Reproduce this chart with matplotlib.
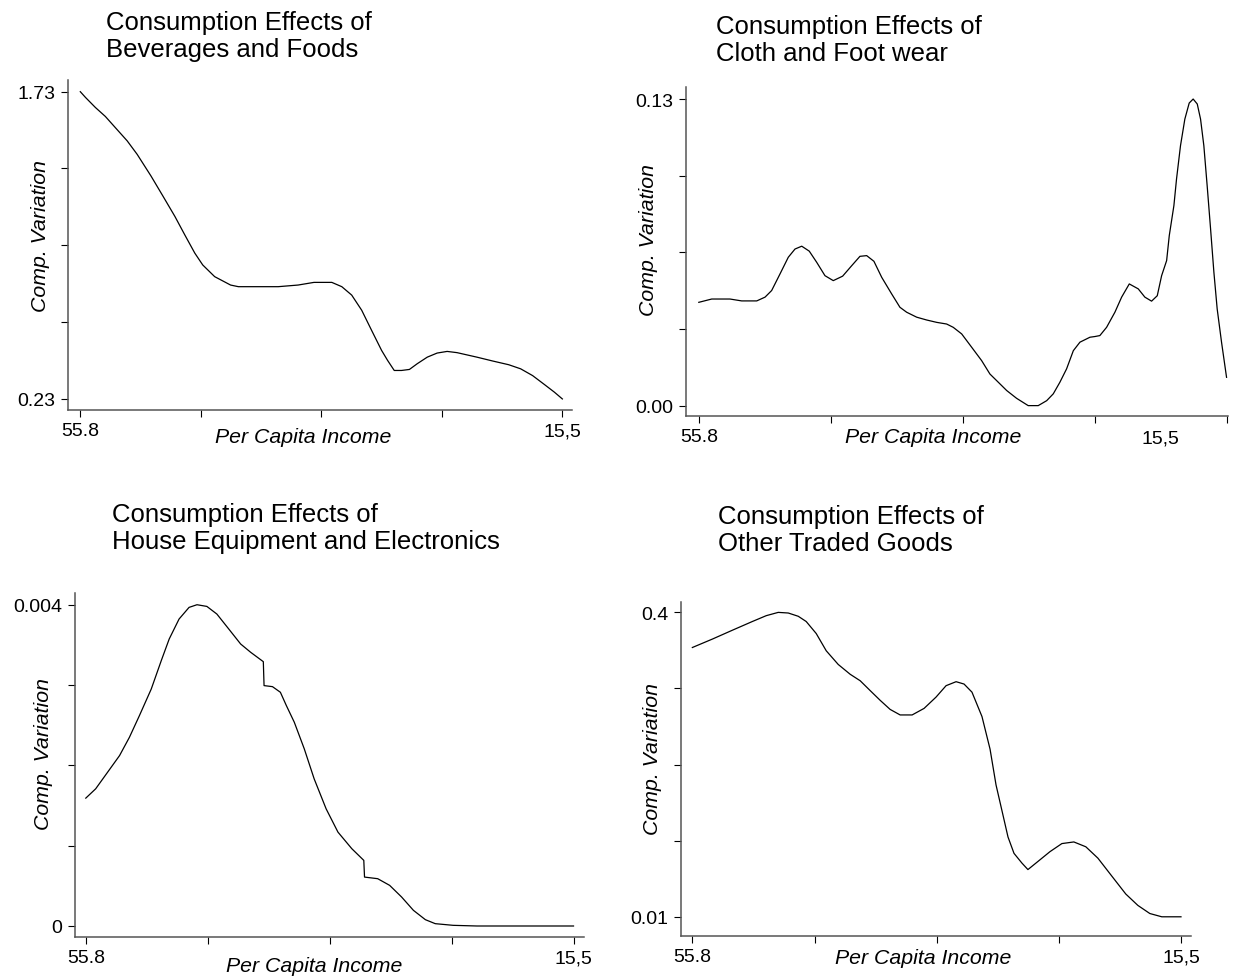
import matplotlib
matplotlib.use("Agg")
import matplotlib.pyplot as plt

plt.rcParams['font.family'] = ['Liberation Sans', 'DejaVu Sans']

# ---------------- data (x in tick units: 0 = 55.8 ... 4 = last tick) ----------------
bev_x = [0, 0.043, 0.125, 0.208, 0.290, 0.389, 0.472, 0.587, 0.686, 0.785, 0.867, 0.950, 1.016,
         1.115, 1.247, 1.312, 1.477, 1.642, 1.807, 1.939, 2.087, 2.170, 2.252, 2.335, 2.417, 2.500,
         2.55, 2.605, 2.665, 2.731, 2.796, 2.879, 2.961, 3.044, 3.126, 3.291, 3.423, 3.555, 3.654,
         3.753, 3.852, 3.934, 4.0]
bev_y = [1.73, 1.702, 1.653, 1.609, 1.555, 1.49, 1.424, 1.318, 1.22, 1.121, 1.031, 0.942, 0.884,
         0.827, 0.786, 0.778, 0.778, 0.778, 0.786, 0.799, 0.799, 0.778, 0.737, 0.663, 0.565, 0.467,
         0.418, 0.369, 0.369, 0.374, 0.402, 0.434, 0.454, 0.462, 0.456, 0.434, 0.415, 0.397, 0.377,
         0.344, 0.300, 0.263, 0.23]

clo_x = [0, 0.098, 0.236, 0.325, 0.439, 0.502, 0.552, 0.615, 0.678, 0.729, 0.780, 0.837, 0.893,
         0.956, 1.019, 1.09, 1.158, 1.221, 1.272, 1.327, 1.386, 1.461, 1.524, 1.575, 1.651, 1.727,
         1.803, 1.878, 1.928, 1.992, 2.067, 2.143, 2.206, 2.257, 2.333, 2.408, 2.496, 2.572, 2.636,
         2.686, 2.736, 2.787, 2.838, 2.888, 2.964, 3.002, 3.039, 3.090, 3.153, 3.204, 3.262, 3.330,
         3.380, 3.431, 3.474, 3.507, 3.545, 3.565, 3.600, 3.620, 3.650, 3.683, 3.716, 3.746, 3.777,
         3.802, 3.827, 3.852, 3.878, 3.903, 3.928, 3.961, 3.999]
clo_y = [0.0438, 0.0452, 0.0452, 0.0444, 0.0444, 0.0460, 0.0488, 0.0558, 0.0629, 0.0664, 0.0676,
         0.0655, 0.0608, 0.0551, 0.0530, 0.0549, 0.0593, 0.0633, 0.0636, 0.0612, 0.0544, 0.0474,
         0.0417, 0.0396, 0.0375, 0.0363, 0.0353, 0.0346, 0.0332, 0.0304, 0.0248, 0.0191, 0.0134,
         0.0106, 0.0064, 0.0031, 0.0, 0.0, 0.0021, 0.0050, 0.0099, 0.0156, 0.0233, 0.0269, 0.0290,
         0.0293, 0.0297, 0.0332, 0.0396, 0.0460, 0.0516, 0.0495, 0.0460, 0.0443, 0.0466, 0.0551,
         0.0615, 0.0721, 0.0848, 0.0961, 0.1102, 0.1215, 0.1283, 0.1300, 0.1279, 0.1215, 0.1102,
         0.0933, 0.0749, 0.0566, 0.0410, 0.0269, 0.0120]

hou_x = [0, 0.081, 0.179, 0.277, 0.358, 0.44, 0.537, 0.619, 0.684, 0.765, 0.847, 0.912, 0.993,
         1.075, 1.173, 1.270, 1.352, 1.456, 1.462, 1.531, 1.596, 1.645, 1.71, 1.792, 1.873, 1.971,
         2.068, 2.182, 2.28, 2.286, 2.394, 2.492, 2.59, 2.687, 2.785, 2.866, 3.013, 3.208, 4.0]
hou_y = [0.001592, 0.001708, 0.001915, 0.002122, 0.00235, 0.00262, 0.002951, 0.003304, 0.003573,
         0.003822, 0.003967, 0.004, 0.003979, 0.003884, 0.003697, 0.003511, 0.003408, 0.003291,
         0.002993, 0.00298, 0.00291, 0.002744, 0.002537, 0.002205, 0.001832, 0.001459, 0.001169,
         0.000962, 0.000817, 0.000609, 0.000589, 0.000506, 0.000361, 0.000195, 0.0000788,
         0.000029, 0.0000083, 0.0, 0.0]

oth_x = [0, 0.164, 0.327, 0.491, 0.605, 0.703, 0.785, 0.867, 0.932, 1.014, 1.096, 1.194, 1.292,
         1.374, 1.455, 1.537, 1.619, 1.701, 1.799, 1.897, 1.995, 2.077, 2.159, 2.224, 2.289, 2.371,
         2.437, 2.486, 2.535, 2.584, 2.633, 2.698, 2.747, 2.829, 2.927, 3.025, 3.123, 3.221, 3.32,
         3.434, 3.548, 3.647, 3.745, 3.843, 4.0]
oth_y = [0.355, 0.3658, 0.3771, 0.3883, 0.3958, 0.4, 0.3992, 0.395, 0.3883, 0.3729, 0.3508,
         0.3333, 0.3207, 0.3124, 0.2999, 0.2874, 0.2757, 0.2686, 0.2686, 0.277, 0.2915, 0.3061,
         0.3112, 0.3082, 0.2978, 0.2665, 0.2248, 0.1789, 0.1456, 0.1122, 0.0913, 0.0788, 0.0705,
         0.0809, 0.0934, 0.1038, 0.1059, 0.0997, 0.0851, 0.0621, 0.0392, 0.0246, 0.0142, 0.01, 0.01]

titles = ["Consumption Effects of\nBeverages and Foods",
          "Consumption Effects of\nCloth and Foot wear",
          "Consumption Effects of\nHouse Equipment and Electronics",
          "Consumption Effects of\nOther Traded Goods"]

y_ticks = [[0.23, 0.605, 0.98, 1.355, 1.73],
           [0.0, 0.0325, 0.065, 0.0975, 0.13],
           [0.0, 0.001, 0.002, 0.003, 0.004],
           [0.01, 0.1075, 0.205, 0.3025, 0.4]]
y_ticklabels = [["0.23", "", "", "", "1.73"],
                ["0.00", "", "", "", "0.13"],
                ["0", "", "", "", "0.004"],
                ["0.01", "", "", "", "0.4"]]
x_ticks = [0, 1, 2, 3, 4]
x_first_label = "55.8"
x_last_label = "15,5"
x_last_label_pos = [4, 3.5, 4, 4]

xlabel = "Per Capita Income"
ylabel = "Comp. Variation"

# ---------------- layout (pixels) ----------------
W, H = 1247, 979
# left, right, top, bottom of each axes in pixels
boxes = [(68, 572, 81, 411), (686, 1228, 88, 417), (75, 584, 594, 938), (681, 1191, 603, 937)]
xlims = [(-0.102, 4.08), (-0.097, 4.01), (-0.0885, 4.086), (-0.093, 4.082)]
ylims = [(0.176, 1.787), (-0.0044, 0.1351), (-0.000137, 0.004146), (-0.0146, 0.4133)]
title_pos = [(106, 11), (716, 15), (112, 503), (718, 505)]
ylabel_pos = [(-0.054, 0.53), (-0.070, 0.538), (-0.061, 0.535), (-0.055, 0.533)]
xlabel_pos = [(0.466, -0.079), (0.456, -0.062), (0.47, -0.082), (0.475, -0.065)]

fig = plt.figure(figsize=(W / 100, H / 100), dpi=100)

series = [(bev_x, bev_y), (clo_x, clo_y), (hou_x, hou_y), (oth_x, oth_y)]
spine_col = '#555555'
for i, (bx, (xs, ys)) in enumerate(zip(boxes, series)):
    l, r, t, b = bx
    ax = fig.add_axes([l / W, 1 - b / H, (r - l) / W, (b - t) / H])
    ax.plot(xs, ys, color='black', lw=0.9, solid_joinstyle='round')
    ax.set_xlim(*xlims[i])
    ax.set_ylim(*ylims[i])
    for s in ['top', 'right']:
        ax.spines[s].set_visible(False)
    for s in ['left', 'bottom']:
        ax.spines[s].set_color(spine_col)
        ax.spines[s].set_linewidth(1.1)
    ax.set_yticks(y_ticks[i])
    ax.set_yticklabels(y_ticklabels[i])
    ax.set_xticks(x_ticks)
    xl = [x_first_label, "", "", "", ""]
    if x_last_label_pos[i] == 4:
        xl[-1] = x_last_label
    else:
        ax.set_xticks([x_last_label_pos[i]], minor=True)
        ax.set_xticklabels([x_last_label], minor=True)
        ax.tick_params(axis='x', which='minor', length=0, pad=10, labelsize=14)
    ax.set_xticklabels(xl)
    ax.tick_params(axis='both', which='major', direction='out', length=5, width=0.8,
                   color='black', labelsize=14)
    ax.tick_params(axis='x', which='major', pad=4)
    ax.tick_params(axis='y', which='major', pad=4)
    ax.set_xlabel(xlabel, fontsize=15.3, style='italic', va='center')
    ax.xaxis.set_label_coords(*xlabel_pos[i])
    ax.set_ylabel(ylabel, fontsize=15.3, style='italic', rotation=90, va='center', ha='center',
                  rotation_mode='default')
    ax.yaxis.set_label_coords(*ylabel_pos[i])
    tx, ty = title_pos[i]
    fig.text(tx / W, 1 - ty / H, titles[i], fontsize=18.5, ha='left', va='top', linespacing=1.17)

fig.savefig("out.png", dpi=100, facecolor='white')
